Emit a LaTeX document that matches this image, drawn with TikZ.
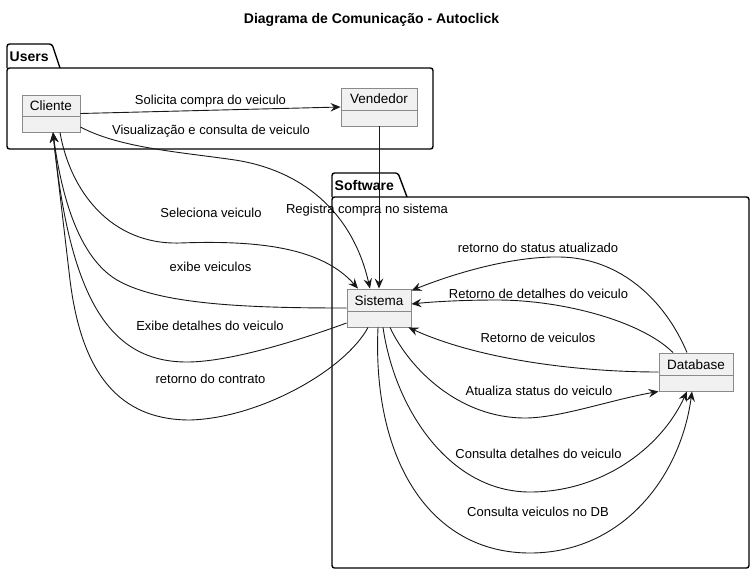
\documentclass[tikz,border=0pt]{standalone}
\usepackage{fontspec}
\setmainfont{Liberation Sans}
\usetikzlibrary{arrows.meta}
\definecolor{edgec}{HTML}{181818}
\definecolor{boxfill}{HTML}{F1F1F1}
\definecolor{boxline}{HTML}{8A8A8A}
\begin{document}
\begin{tikzpicture}[x=1pt,y=-1pt,
  cls/.style={draw=boxline, fill=boxfill, line width=0.9pt, inner sep=0pt, minimum height=38pt},
  clsname/.style={inner sep=0pt, font=\fontsize{13.5}{15}\selectfont, text=black},
  divider/.style={draw=boxline, line width=0.9pt},
  pkg/.style={draw=black, line width=1.4pt, rounded corners=2.5pt},
  pkglabel/.style={inner sep=0pt, font=\bfseries\fontsize{14}{16}\selectfont, anchor=west},
  lbl/.style={inner sep=0pt, font=\fontsize{13}{15}\selectfont, text=black},
  arr/.style={draw=edgec, line width=0.9pt, -{Stealth[length=10pt,width=8.5pt,inset=3.5pt]}}
]
\useasboundingbox (0,0) rectangle (755,574);

% title
\node[inner sep=0pt, font=\bfseries\fontsize{14}{16}\selectfont] (title) at (371.5,20) {Diagrama de Comunicação - Autoclick};

% packages
\draw[pkg] (7,68) rectangle (433,149);
\draw[pkg] (7,68) -- (7,44) -- (52,44) -- (60,68);
\node[pkglabel] (usersL) at (9.5,56.5) {Users};

\draw[pkg] (332,197) rectangle (749,568);
\draw[pkg] (332,197) -- (332,173) -- (398,173) -- (407,197);
\node[pkglabel] (softL) at (334.5,185) {Software};

% classes
\node[cls, minimum width=58pt, minimum height=37pt] (cliente) at (51,113.5) {};
\draw[divider] ([yshift=-22pt]cliente.north west) -- ([yshift=-22pt]cliente.north east);
\node[clsname] (clienteT) at ([yshift=-11.5pt]cliente.north) {Cliente};

\node[cls, minimum width=76pt] (vendedor) at (379,107) {};
\draw[divider] ([yshift=-22.5pt]vendedor.north west) -- ([yshift=-22.5pt]vendedor.north east);
\node[clsname] (vendedorT) at ([yshift=-11.5pt]vendedor.north) {Vendedor};

\node[cls, minimum width=64pt] (sistema) at (379,308) {};
\draw[divider] ([yshift=-22.5pt]sistema.north west) -- ([yshift=-22.5pt]sistema.north east);
\node[clsname] (sistemaT) at ([yshift=-12pt]sistema.north) {Sistema};

\node[cls, minimum width=74pt] (database) at (696,372) {};
\draw[divider] ([yshift=-23pt]database.north west) -- ([yshift=-23pt]database.north east);
\node[clsname] (databaseT) at ([yshift=-12pt]database.north) {Database};

% edges
\draw[arr] (cliente.east) -- (vendedor.west);
\draw[arr] ([yshift=-13.5pt]cliente.east) .. controls (120,148) and (180,152) .. (235,160) .. controls (300,170) and (352,210) .. ([xshift=-9pt]sistema.north);
\draw[arr] (vendedor.south) -- (sistema.north);
\draw[arr] ([xshift=9pt]cliente.south) .. controls (70,190) and (110,245) .. (180,243) .. controls (260,240) and (322,248) .. ([xshift=-21pt]sistema.north);
\draw[arr] (sistema.west) .. controls (250,308) and (160,305) .. (117,280) .. controls (80,258) and (62,200) .. ([xshift=2pt]cliente.south);
\draw[arr] ([yshift=-15pt]sistema.west) .. controls (300,340) and (230,362) .. (187,362) .. controls (110,362) and (70,300) .. ([xshift=2pt]cliente.south);
\draw[arr] ([xshift=-11pt]sistema.south) .. controls (345,370) and (260,418) .. (190,420) .. controls (110,420) and (80,360) .. (70,280) .. controls (63,220) and (57,170) .. ([xshift=2pt]cliente.south);

\draw[arr] ([xshift=-9pt]database.north) .. controls (665,300) and (620,258) .. (560,257) .. controls (510,256) and (450,275) .. ([yshift=-2pt]sistema.north east);
\draw[arr] ([xshift=-23pt]database.north) .. controls (640,320) and (560,300) .. (497,300) .. controls (460,300) and (430,302) .. ([yshift=4pt]sistema.east);
\draw[arr] (database.west) .. controls (580,372) and (480,360) .. ([xshift=-3pt]sistema.south east);
\draw[arr] ([xshift=11pt]sistema.south) .. controls (410,370) and (460,418) .. (525,418) .. controls (560,418) and (610,400) .. (database.south west);
\draw[arr] ([xshift=4pt]sistema.south) .. controls (395,410) and (450,492) .. (530,492) .. controls (600,492) and (660,450) .. ([xshift=-9pt]database.south);
\draw[arr] ([xshift=-1pt]sistema.south) .. controls (372,460) and (430,553) .. (530,553) .. controls (620,553) and (680,480) .. ([xshift=-4pt]database.south);

% labels
\node[lbl] (l1) at (210.5,101) {Solicita compra do veiculo};
\node[lbl] (l2) at (211,131) {Visualização e consulta de veiculo};
\node[lbl] (l3) at (211,213) {Seleciona veiculo};
\node[lbl] (l4) at (367,210) {Registra compra no sistema};
\node[lbl] (l5) at (210.5,267) {exibe veiculos};
\node[lbl] (l6) at (210,326) {Exibe detalhes do veiculo};
\node[lbl] (l7) at (210.5,379) {retorno do contrato};
\node[lbl] (l8) at (538,248) {retorno do status atualizado};
\node[lbl] (l9) at (538.5,294) {Retorno de detalhes do veiculo};
\node[lbl] (l10) at (538,338) {Retorno de veiculos};
\node[lbl] (l11) at (539,391) {Atualiza status do veiculo};
\node[lbl] (l12) at (538.5,454) {Consulta detalhes do veiculo};
\node[lbl] (l13) at (538,512) {Consulta veiculos no DB};
\end{tikzpicture}
\end{document}
